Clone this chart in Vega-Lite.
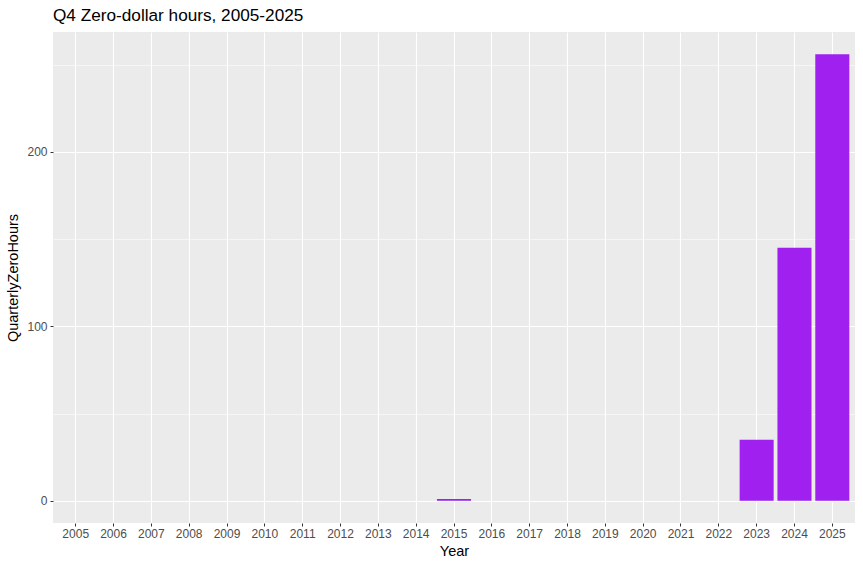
{
  "$schema": "https://vega.github.io/schema/vega-lite/v6.json",
  "autosize": "none",
  "width": 802,
  "height": 491,
  "padding": {"left": 53, "top": 32, "right": 8, "bottom": 45},
  "background": "white",
  "title": {
    "text": "Q4 Zero-dollar hours, 2005-2025",
    "anchor": "start",
    "frame": "group",
    "font": "Liberation Sans",
    "fontSize": 17.2,
    "fontWeight": "normal",
    "color": "black",
    "offset": 8
  },
  "config": {
    "view": {"fill": "#EBEBEB", "stroke": null},
    "axis": {
      "labelFont": "Liberation Sans",
      "titleFont": "Liberation Sans",
      "labelFontSize": 12,
      "labelColor": "#4D4D4D",
      "titleFontSize": 14.5,
      "titleFontWeight": "normal",
      "titleColor": "black",
      "tickColor": "#333333",
      "tickSize": 3,
      "tickWidth": 1,
      "domain": false,
      "gridColor": "white"
    }
  },
  "data": {
    "values": [
      {"Year": "2005", "QuarterlyZeroHours": 0},
      {"Year": "2006", "QuarterlyZeroHours": 0},
      {"Year": "2007", "QuarterlyZeroHours": 0},
      {"Year": "2008", "QuarterlyZeroHours": 0},
      {"Year": "2009", "QuarterlyZeroHours": 0},
      {"Year": "2010", "QuarterlyZeroHours": 0},
      {"Year": "2011", "QuarterlyZeroHours": 0},
      {"Year": "2012", "QuarterlyZeroHours": 0},
      {"Year": "2013", "QuarterlyZeroHours": 0},
      {"Year": "2014", "QuarterlyZeroHours": 0},
      {"Year": "2015", "QuarterlyZeroHours": 1},
      {"Year": "2016", "QuarterlyZeroHours": 0},
      {"Year": "2017", "QuarterlyZeroHours": 0},
      {"Year": "2018", "QuarterlyZeroHours": 0},
      {"Year": "2019", "QuarterlyZeroHours": 0},
      {"Year": "2020", "QuarterlyZeroHours": 0},
      {"Year": "2021", "QuarterlyZeroHours": 0},
      {"Year": "2022", "QuarterlyZeroHours": 0},
      {"Year": "2023", "QuarterlyZeroHours": 35},
      {"Year": "2024", "QuarterlyZeroHours": 145},
      {"Year": "2025", "QuarterlyZeroHours": 256}
    ]
  },
  "mark": {"type": "bar", "color": "#A020F0"},
  "encoding": {
    "x": {
      "field": "Year",
      "type": "ordinal",
      "scale": {"paddingInner": 0.1, "paddingOuter": 0.15},
      "axis": {
        "labelAngle": 0,
        "grid": true,
        "gridWidth": 1.1,
        "bandPosition": 0.5,
        "labelPadding": 2,
        "titlePadding": 5
      }
    },
    "y": {
      "field": "QuarterlyZeroHours",
      "type": "quantitative",
      "scale": {"domain": [-12.8, 268.8], "nice": false, "zero": false},
      "axis": {
        "values": [0, 50, 100, 150, 200, 250],
        "grid": true,
        "gridWidth": {"condition": {"test": "datum.value % 100 === 0", "value": 1.1}, "value": 0.55},
        "tickOpacity": {"condition": {"test": "datum.value % 100 === 0", "value": 1}, "value": 0},
        "labelExpr": "datum.value % 100 === 0 ? datum.label : ''",
        "labelPadding": 3,
        "titlePadding": 6
      }
    }
  }
}
